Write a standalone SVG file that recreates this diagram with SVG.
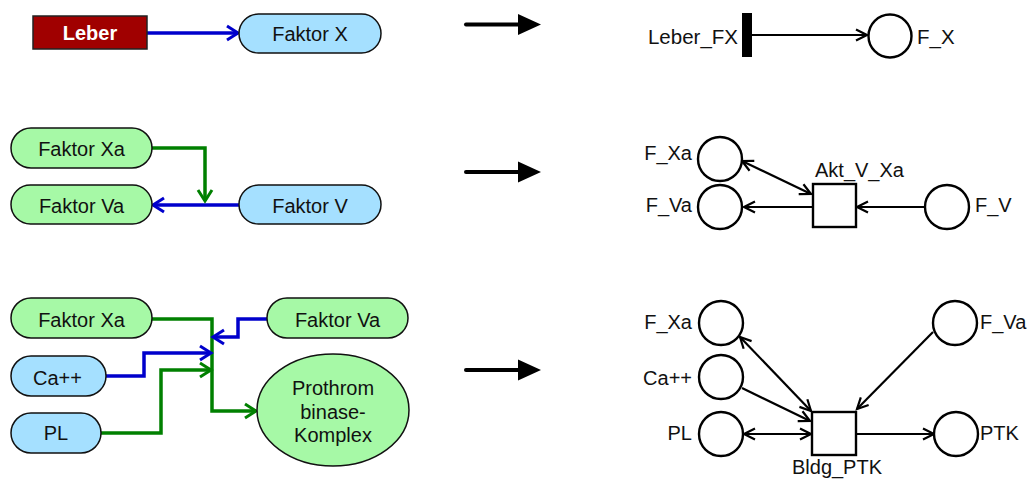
<svg xmlns="http://www.w3.org/2000/svg" width="1033" height="479" viewBox="0 0 1033 479">
  <style>
    text { font-family: "Liberation Sans", Arial, sans-serif; font-size: 20px; fill: #111; }
    .c { text-anchor: middle; }
    .e { text-anchor: end; }
    .pill { stroke: #111; stroke-width: 1.5; }
    .blue { fill: #a5e0ff; }
    .green { fill: #a6f9a6; }
    .lb { fill: none; stroke: #0000cc; stroke-width: 3.5; }
    .lg { fill: none; stroke: #008000; stroke-width: 3.5; }
    .place { fill: #fff; stroke: #000; stroke-width: 2.4; }
    .trans { fill: #fff; stroke: #000; stroke-width: 2.4; }
    .arc { fill: none; stroke: #000; stroke-width: 2.2; }
    .big { stroke: #000; stroke-width: 4; stroke-linecap: round; }
  </style>
  <defs>
    <marker id="hb" markerWidth="18" markerHeight="18" refX="14" refY="9" orient="auto" markerUnits="userSpaceOnUse" overflow="visible">
      <path d="M3,2 L14,9 L3,16" fill="none" stroke="#0000cc" stroke-width="3"/>
    </marker>
    <marker id="hg" markerWidth="18" markerHeight="18" refX="14" refY="9" orient="auto" markerUnits="userSpaceOnUse" overflow="visible">
      <path d="M3,2 L14,9 L3,16" fill="none" stroke="#008000" stroke-width="3"/>
    </marker>
    <marker id="pa" markerWidth="14" markerHeight="14" refX="12" refY="7" orient="auto-start-reverse" markerUnits="userSpaceOnUse" overflow="visible">
      <path d="M1,1.5 L12,7 L1,12.5" fill="none" stroke="#000" stroke-width="2.2"/>
    </marker>
  </defs>

  <!-- connectors -->
  <g id="connectors">
    <!-- row 1 -->
    <line class="lb" x1="147" y1="33" x2="238" y2="33" marker-end="url(#hb)"/>
    <!-- row 2 -->
    <path class="lb" d="M239,205 H153" marker-end="url(#hb)"/>
    <path class="lg" d="M152,148 H205 V201" marker-end="url(#hg)"/>
    <!-- row 3 -->
    <path class="lg" d="M152,319 H212 V411 H256" marker-end="url(#hg)"/>
    <path class="lb" d="M267,319 H238 V337 H213" marker-end="url(#hb)"/>
    <path class="lb" d="M106,376 H144 V353 H211" marker-end="url(#hb)"/>
    <path class="lg" d="M101,433 H161 V370 H211" marker-end="url(#hg)"/>

    <!-- transformation arrows -->
    <line class="big" x1="466" y1="24.5" x2="520" y2="24.5"/>
    <polygon points="518,14 541,24.5 518,35" fill="#000"/>
    <line class="big" x1="466" y1="172" x2="520" y2="172"/>
    <polygon points="518,161.5 541,172 518,182.5" fill="#000"/>
    <line class="big" x1="466" y1="370" x2="520" y2="370"/>
    <polygon points="518,359.5 541,370 518,380.5" fill="#000"/>

    <!-- petri net arcs -->
    <line class="arc" x1="752" y1="35" x2="867" y2="35" marker-end="url(#pa)"/>

    <line class="arc" x1="742" y1="161" x2="811" y2="194" marker-start="url(#pa)" marker-end="url(#pa)"/>
    <line class="arc" x1="813" y1="207" x2="744" y2="207" marker-end="url(#pa)"/>
    <line class="arc" x1="925" y1="207" x2="857" y2="207" marker-end="url(#pa)"/>

    <line class="arc" x1="740" y1="337" x2="811" y2="411" marker-start="url(#pa)" marker-end="url(#pa)"/>
    <line class="arc" x1="742" y1="388" x2="810" y2="421" marker-end="url(#pa)"/>
    <line class="arc" x1="933" y1="332" x2="857" y2="409" marker-end="url(#pa)"/>
    <line class="arc" x1="744" y1="434" x2="811" y2="434" marker-start="url(#pa)" marker-end="url(#pa)"/>
    <line class="arc" x1="856" y1="434" x2="934" y2="434" marker-end="url(#pa)"/>
  </g>

  <!-- row 1, left -->
  <g id="leber">
    <rect x="33" y="16" width="114" height="33" fill="#a00000" stroke="#222" stroke-width="1.5"/>
    <text class="c" x="90" y="40" style="fill:#fff;font-weight:bold">Leber</text>
  </g>
  <g id="faktor-x">
    <rect class="pill blue" x="239" y="14" width="142" height="39" rx="19.5"/>
    <text class="c" x="310" y="41">Faktor X</text>
  </g>

  <!-- row 2, left -->
  <g id="faktor-xa-2">
    <rect class="pill green" x="11" y="128" width="141" height="40" rx="20"/>
    <text class="c" x="81.5" y="156">Faktor Xa</text>
  </g>
  <g id="faktor-va-2">
    <rect class="pill green" x="11" y="185" width="141" height="39" rx="19.5"/>
    <text class="c" x="81.5" y="213">Faktor Va</text>
  </g>
  <g id="faktor-v">
    <rect class="pill blue" x="239" y="185" width="142" height="39" rx="19.5"/>
    <text class="c" x="310" y="213">Faktor V</text>
  </g>

  <!-- row 3, left -->
  <g id="faktor-xa-3">
    <rect class="pill green" x="11" y="298" width="141" height="40" rx="20"/>
    <text class="c" x="81.5" y="327">Faktor Xa</text>
  </g>
  <g id="faktor-va-3">
    <rect class="pill green" x="267" y="298" width="141" height="40" rx="20"/>
    <text class="c" x="337.5" y="327">Faktor Va</text>
  </g>
  <g id="ca">
    <rect class="pill blue" x="11" y="356" width="95" height="40" rx="20"/>
    <text class="c" x="57.5" y="385">Ca++</text>
  </g>
  <g id="pl">
    <rect class="pill blue" x="11" y="413" width="90" height="40" rx="20"/>
    <text class="c" x="56" y="440">PL</text>
  </g>
  <g id="prothrombinase">
    <ellipse class="pill green" cx="333" cy="410" rx="76" ry="56"/>
    <text class="c" x="333" y="395">Prothrom</text>
    <text class="c" x="333" y="419">binase-</text>
    <text class="c" x="333" y="442">Komplex</text>
  </g>

  <!-- row 1, petri net -->
  <g id="t-leber-fx">
    <rect x="742" y="13" width="10" height="44" fill="#000"/>
    <text class="e" x="738" y="44" style="font-size:20.5px">Leber_FX</text>
  </g>
  <g id="p-fx">
    <circle class="place" cx="890" cy="36" r="21.5"/>
    <text x="917" y="44" style="font-size:20.5px">F_X</text>
  </g>

  <!-- row 2, petri net -->
  <g id="p-fxa-2">
    <circle class="place" cx="720" cy="159" r="22"/>
    <text class="e" x="692" y="160">F_Xa</text>
  </g>
  <g id="p-fva-2">
    <circle class="place" cx="720" cy="207" r="22"/>
    <text class="e" x="692" y="212">F_Va</text>
  </g>
  <g id="t-akt-v-xa">
    <rect class="trans" x="813" y="184" width="43" height="43"/>
    <text x="815" y="177">Akt_V_Xa</text>
  </g>
  <g id="p-fv">
    <circle class="place" cx="947" cy="207" r="22"/>
    <text x="975" y="212">F_V</text>
  </g>

  <!-- row 3, petri net -->
  <g id="p-fxa-3">
    <circle class="place" cx="721" cy="323" r="22"/>
    <text class="e" x="692" y="329">F_Xa</text>
  </g>
  <g id="p-ca">
    <circle class="place" cx="721" cy="377" r="22"/>
    <text class="e" x="692" y="385">Ca++</text>
  </g>
  <g id="p-pl">
    <circle class="place" cx="721" cy="434" r="22"/>
    <text class="e" x="692" y="440">PL</text>
  </g>
  <g id="p-fva-3">
    <circle class="place" cx="955" cy="323" r="22"/>
    <text x="980" y="329">F_Va</text>
  </g>
  <g id="p-ptk">
    <circle class="place" cx="956" cy="434" r="22"/>
    <text x="980" y="440">PTK</text>
  </g>
  <g id="t-bldg-ptk">
    <rect class="trans" x="812" y="412" width="44" height="43"/>
    <text class="c" x="837" y="474">Bldg_PTK</text>
  </g>
</svg>
